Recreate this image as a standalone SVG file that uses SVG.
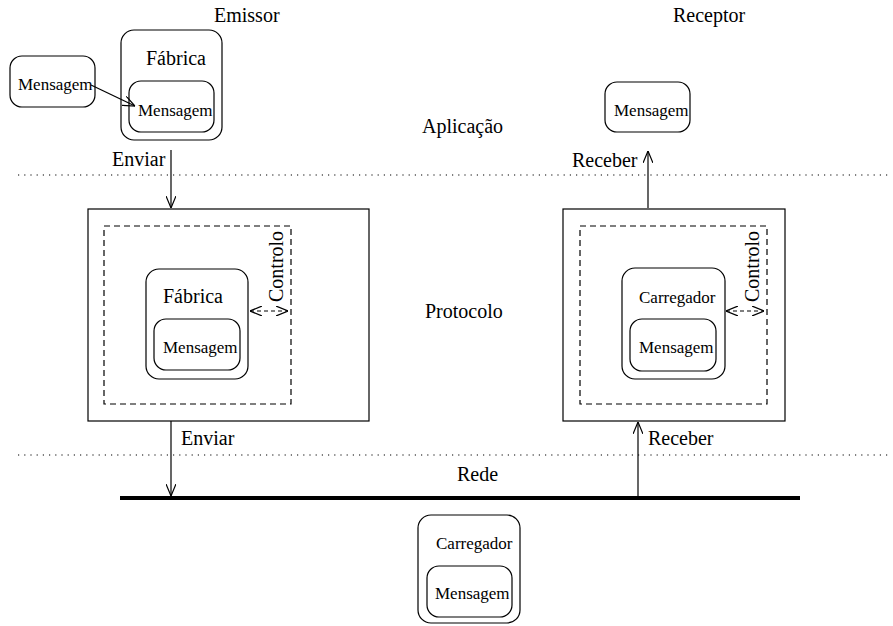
<svg xmlns="http://www.w3.org/2000/svg" width="893" height="626" viewBox="0 0 893 626">
  <style>
    .box { fill: none; stroke: #000; stroke-width: 1.2; }
    .dash { fill: none; stroke: #000; stroke-width: 1.2; stroke-dasharray: 6 4; }
    text { font-family: 'Liberation Serif', 'Times New Roman', Times, 'DejaVu Serif', serif; fill: #000; }
    .lbl { font-size: 20px; }
    .sm { font-size: 17px; }
    .layer { stroke: #000; stroke-width: 1.2; stroke-dasharray: 1.2 5; }
    .edge { stroke: #000; stroke-width: 1.2; fill: none; }
  </style>
  <defs>
    <marker id="open" viewBox="0 0 12 10" refX="12" refY="5" markerWidth="12" markerHeight="10" markerUnits="userSpaceOnUse" orient="auto-start-reverse">
      <path d="M0,0 L12,5 L0,10" fill="none" stroke="#000" stroke-width="1.2"/>
    </marker>
  </defs>
  <rect width="893" height="626" fill="#fff"/>

  <!-- layer separators and titles -->
  <g id="layers">
    <line class="layer" x1="18" y1="175" x2="888" y2="175"/>
    <line class="layer" x1="18" y1="455" x2="888" y2="455"/>
    <text class="lbl" x="214" y="22">Emissor</text>
    <text class="lbl" x="673" y="22">Receptor</text>
    <text class="lbl" x="422" y="133">Aplicação</text>
    <text class="lbl" x="425" y="318">Protocolo</text>
    <text class="lbl" x="457" y="481">Rede</text>
  </g>

  <!-- network bus -->
  <g id="rede">
    <line x1="120" y1="498" x2="800" y2="498" stroke="#000" stroke-width="4"/>
  </g>

  <!-- sender application -->
  <g id="msg-origem">
    <rect class="box" x="10" y="56" width="85" height="51" rx="12"/>
    <text class="sm" x="18" y="90">Mensagem</text>
  </g>
  <g id="fabrica-app">
    <rect class="box" x="121" y="30" width="101" height="110" rx="13"/>
    <text class="lbl" x="146" y="65">Fábrica</text>
    <rect class="box" x="129" y="81" width="85" height="51" rx="12"/>
    <text class="sm" x="138" y="116">Mensagem</text>
  </g>

  <!-- receiver application -->
  <g id="msg-destino">
    <rect class="box" x="605" y="82" width="85" height="50" rx="12"/>
    <text class="sm" x="614" y="116">Mensagem</text>
  </g>

  <!-- sender protocol -->
  <g id="protocolo-emissor">
    <rect class="box" x="88" y="209" width="281" height="212"/>
    <rect class="dash" x="104" y="226" width="187" height="178"/>
    <rect class="box" x="146" y="269" width="102" height="110" rx="13"/>
    <text class="lbl" x="163" y="303">Fábrica</text>
    <rect class="box" x="154" y="319" width="86" height="51" rx="12"/>
    <text class="sm" x="163" y="353">Mensagem</text>
    <text class="lbl" transform="translate(283,302) rotate(-90)">Controlo</text>
  </g>

  <!-- receiver protocol -->
  <g id="protocolo-receptor">
    <rect class="box" x="563" y="209" width="222" height="212"/>
    <rect class="dash" x="580" y="226" width="187" height="178"/>
    <rect class="box" x="622" y="268" width="103" height="111" rx="13"/>
    <text class="sm" x="639" y="303">Carregador</text>
    <rect class="box" x="630" y="319" width="86" height="52" rx="12"/>
    <text class="sm" x="639" y="353">Mensagem</text>
    <text class="lbl" transform="translate(759,302) rotate(-90)">Controlo</text>
  </g>

  <!-- loader in transit -->
  <g id="carregador-rede">
    <rect class="box" x="418" y="515" width="102" height="108" rx="13"/>
    <text class="sm" x="436" y="549">Carregador</text>
    <rect class="box" x="427" y="566" width="85" height="51" rx="12"/>
    <text class="sm" x="435" y="599">Mensagem</text>
  </g>

  <!-- connectors -->
  <g id="connectors">
    <line class="edge" x1="91" y1="85" x2="135" y2="106" marker-end="url(#open)"/>
    <line class="edge" x1="171" y1="150" x2="171" y2="208" marker-end="url(#open)"/>
    <text class="lbl" x="112" y="166">Enviar</text>
    <line class="edge" x1="648" y1="208" x2="648" y2="151" marker-end="url(#open)"/>
    <text class="lbl" x="572" y="167">Receber</text>
    <line class="edge" x1="171" y1="421" x2="171" y2="496" marker-end="url(#open)"/>
    <text class="lbl" x="181" y="445">Enviar</text>
    <line class="edge" x1="638" y1="496" x2="638" y2="422" marker-end="url(#open)"/>
    <text class="lbl" x="648" y="445">Receber</text>
    <line class="edge" x1="250" y1="311" x2="288" y2="311" stroke-dasharray="4 3" marker-start="url(#open)" marker-end="url(#open)"/>
    <line class="edge" x1="726" y1="311" x2="764" y2="311" stroke-dasharray="4 3" marker-start="url(#open)" marker-end="url(#open)"/>
  </g>
</svg>
